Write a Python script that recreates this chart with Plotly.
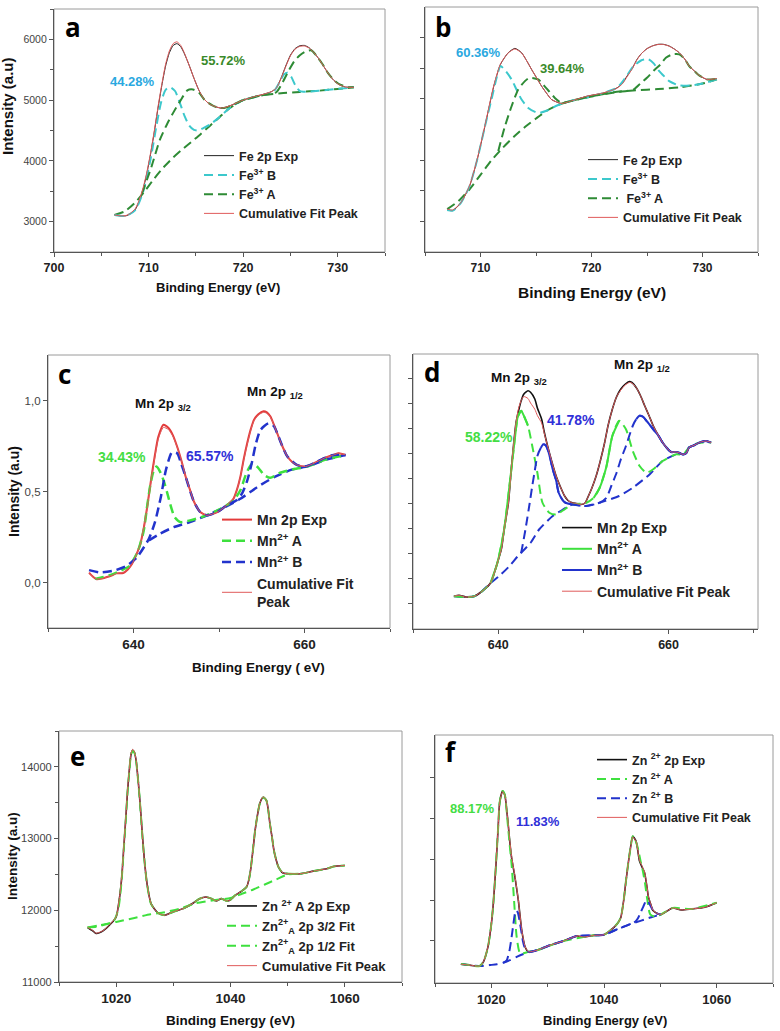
import plotly.graph_objects as go

W, H = 780, 1031

# ---------------- Panel a : Fe 2p ----------------
a_exp_x = [706.4, 707.0, 707.6, 708.1, 708.6, 709.0, 709.4, 709.8, 710.2, 710.6, 711.0, 711.4, 711.8, 712.2, 712.6,
           713.0, 713.4, 713.8, 714.3, 714.8, 715.3, 715.8, 716.4, 717.1, 717.8, 718.8, 720.0, 721.0, 722.0, 723.0,
           723.5, 724.0, 724.5, 725.0, 725.5, 726.0, 726.5, 727.0, 727.5, 728.0, 728.5, 729.0, 729.5, 730.0, 730.8, 731.7]
a_exp_y = [3110, 3095, 3095, 3130, 3200, 3330, 3520, 3780, 4100, 4470, 4870, 5240, 5560, 5780, 5900,
           5930, 5880, 5760, 5570, 5360, 5170, 5030, 4940, 4890, 4865, 4920, 5000, 5050, 5090, 5140,
           5200, 5360, 5560, 5740, 5850, 5895, 5900, 5860, 5780, 5680, 5560, 5440, 5340, 5270, 5215, 5210]
a_cum_y = [3110, 3095, 3100, 3140, 3215, 3350, 3545, 3800, 4120, 4490, 4890, 5260, 5590, 5810, 5930,
           5960, 5900, 5770, 5570, 5360, 5170, 5030, 4940, 4890, 4870, 4920, 5000, 5050, 5090, 5140,
           5195, 5350, 5550, 5730, 5840, 5885, 5890, 5855, 5780, 5680, 5560, 5440, 5340, 5270, 5215, 5210]
a_bg_x = [706.4, 707.5, 708.5, 709.5, 710.5, 711.5, 712.5, 713.5, 714.5, 715.5, 716.5, 717.5, 718.5, 720.0,
          722.0, 724.0, 726.0, 728.0, 730.0, 731.7]
a_bg_y = [3110, 3170, 3300, 3480, 3690, 3880, 4040, 4180, 4310, 4440, 4580, 4720, 4860, 5000,
          5080, 5115, 5135, 5155, 5185, 5210]
a_B_x = [706.4, 707.6, 708.6, 709.4, 710.2, 710.8, 711.3, 711.8, 712.3, 712.8, 713.3, 713.8, 714.3, 714.8, 715.3,
         715.8, 716.5, 717.5, 718.5, 720.0, 722.0, 723.2, 723.8, 724.3, 724.7, 725.1, 725.5, 726.0, 727.0, 728.0,
         730.0, 731.7]
a_B_y = [3110, 3095, 3190, 3480, 4020, 4550, 4950, 5170, 5210, 5150, 4960, 4740, 4580, 4510, 4500,
         4540, 4600, 4720, 4860, 5000, 5080, 5140, 5280, 5420, 5450, 5380, 5250, 5150, 5140, 5155,
         5185, 5210]
a_A_x = [709.3, 710.3, 711.2, 712.0, 712.6, 713.4, 714.1, 714.7, 715.3, 716.0, 716.8, 717.5, 718.2, 719.0, 720.0,
         722.0, 723.5, 724.2, 724.8, 725.4, 726.0, 726.6, 727.2, 727.8, 728.4, 729.0, 729.6, 730.2, 731.0, 731.7]
a_A_y = [3460, 3900, 4350, 4620, 4790, 5000, 5160, 5175, 5130, 4990, 4910, 4870, 4880, 4930, 5000,
         5080, 5130, 5300, 5480, 5640, 5740, 5800, 5820, 5720, 5590, 5440, 5330, 5260, 5215, 5210]

# ---------------- Panel b : Fe 2p ----------------
b_exp_x = [707.0, 707.5, 708.2, 709.0, 709.7, 710.4, 711.2, 711.8, 712.5, 713.1, 713.7, 714.2, 714.6, 715.1, 715.5,
           716.0, 716.4, 717.3, 718.1, 719.6, 721.1, 722.3, 722.8, 723.2, 723.7, 724.1, 724.5, 725.0, 725.5, 726.0,
           726.5, 727.0, 727.5, 727.9, 728.4, 728.8, 729.3, 729.7, 730.4, 731.3]
b_exp_y = [3186, 3175, 3295, 3568, 4005, 4552, 5208, 5563, 5754, 5825, 5754, 5610, 5481, 5330, 5208,
           5080, 4989, 4923, 4962, 5044, 5098, 5180, 5260, 5372, 5510, 5645, 5740, 5820, 5865, 5891,
           5890, 5863, 5810, 5754, 5650, 5536, 5450, 5383, 5317, 5328]
b_cum_y = [3200, 3185, 3300, 3575, 4015, 4565, 5220, 5570, 5750, 5815, 5750, 5610, 5481, 5330, 5208,
           5080, 4989, 4925, 4962, 5044, 5098, 5175, 5250, 5360, 5500, 5640, 5740, 5820, 5865, 5888,
           5888, 5860, 5808, 5754, 5650, 5536, 5450, 5383, 5320, 5330]
b_bg_x = [707.0, 708.0, 709.0, 710.0, 711.0, 712.0, 713.0, 714.0, 715.0, 716.0, 717.0, 718.0, 720.0, 722.0,
          724.0, 726.0, 728.0, 730.0, 731.3]
b_bg_y = [3200, 3330, 3520, 3760, 4000, 4200, 4380, 4540, 4680, 4810, 4900, 4960, 5040, 5110,
          5140, 5160, 5190, 5250, 5320]
b_B_x = [707.0, 707.5, 708.2, 709.0, 709.7, 710.4, 711.0, 711.5, 711.8, 712.3, 712.8, 713.3, 713.7, 714.3, 715.2,
         716.0, 717.0, 718.0, 720.0, 722.3, 723.0, 723.8, 724.5, 725.1, 725.6, 726.1, 726.6, 727.0, 727.9, 729.0,
         730.0, 731.3]
b_B_y = [3186, 3175, 3295, 3568, 4005, 4552, 5000, 5380, 5536, 5450, 5317, 5130, 4989, 4852, 4770,
         4810, 4900, 4960, 5040, 5180, 5330, 5536, 5630, 5650, 5580, 5454, 5360, 5290, 5219, 5220,
         5250, 5320]
b_A_x = [711.6, 712.2, 712.8, 713.4, 714.0, 714.4, 715.2, 715.9, 716.7, 717.3, 718.1, 720.0, 722.3, 723.2,
         723.8, 724.4, 725.0, 725.6, 726.2, 726.7, 727.3, 727.9, 728.4, 728.8, 729.3, 729.7, 730.4, 731.3]
b_A_y = [4150, 4552, 4880, 5153, 5290, 5344, 5317, 5180, 5016, 4934, 4962, 5044, 5110, 5130,
         5153, 5250, 5344, 5460, 5560, 5672, 5727, 5727, 5650, 5536, 5450, 5383, 5317, 5328]

# ---------------- Panel c : Mn 2p ----------------
c_exp_x = [634.8, 635.3, 635.7, 636.3, 636.9, 637.5, 638.0, 638.8, 639.3, 639.8, 640.3, 640.8, 641.2, 641.6, 642.1,
           642.5, 642.9, 643.5, 644.1, 644.6, 645.1, 645.6, 646.1, 646.6, 647.0, 647.8, 648.6, 649.8, 650.9, 651.7,
           652.1, 652.5, 652.9, 653.3, 653.7, 654.1, 654.6, 655.2, 655.6, 656.0, 656.4, 656.8, 657.4, 658.0, 658.5,
           659.1, 660.1, 661.1, 662.3, 663.4, 664.0, 664.8]
c_exp_y = [0.054, 0.03, 0.018, 0.022, 0.03, 0.04, 0.05, 0.052, 0.07, 0.10, 0.15, 0.212, 0.30, 0.415, 0.58,
           0.70, 0.80, 0.867, 0.849, 0.81, 0.747, 0.67, 0.581, 0.51, 0.452, 0.387, 0.369, 0.387, 0.424, 0.461,
           0.51, 0.581, 0.68, 0.766, 0.84, 0.895, 0.925, 0.941, 0.935, 0.913, 0.87, 0.821, 0.75, 0.692, 0.665,
           0.646, 0.637, 0.655, 0.683, 0.701, 0.71, 0.701]
c_cum_y = [0.05, 0.03, 0.02, 0.022, 0.03, 0.04, 0.05, 0.055, 0.072, 0.10, 0.15, 0.21, 0.30, 0.41, 0.57,
           0.69, 0.79, 0.852, 0.84, 0.805, 0.745, 0.67, 0.581, 0.51, 0.452, 0.387, 0.369, 0.387, 0.424, 0.461,
           0.51, 0.581, 0.675, 0.76, 0.835, 0.89, 0.92, 0.935, 0.93, 0.91, 0.868, 0.82, 0.75, 0.692, 0.665,
           0.646, 0.637, 0.655, 0.683, 0.701, 0.71, 0.701]
c_bg_x = [641.8, 643.1, 644.7, 646.6, 648.6, 650.5, 652.5, 654.5, 656.5, 658.5, 660.5, 662.5, 664.8]
c_bg_y = [0.231, 0.268, 0.304, 0.332, 0.369, 0.41, 0.46, 0.525, 0.58, 0.62, 0.64, 0.675, 0.70]
c_A_x = [635.5, 636.5, 637.5, 638.5, 639.5, 640.5, 641.2, 641.6, 642.0, 642.4, 642.7, 643.1, 643.5, 643.9, 644.3,
         644.8, 645.5, 646.5, 648.0, 650.0, 651.7, 652.5, 653.2, 653.9, 654.6, 655.3, 656.0, 657.0, 658.5, 660.5,
         662.5, 664.8]
c_A_y = [0.02, 0.03, 0.045, 0.065, 0.09, 0.17, 0.286, 0.42, 0.544, 0.62, 0.637, 0.609, 0.563, 0.5, 0.43,
         0.36, 0.332, 0.34, 0.36, 0.40, 0.452, 0.507, 0.6, 0.655, 0.63, 0.59, 0.575, 0.6, 0.62, 0.64,
         0.675, 0.70]
c_B_x = [634.8, 636.1, 637.7, 639.2, 640.4, 641.8, 642.5, 643.2, 643.8, 644.5, 645.1, 645.6, 646.1, 647.0, 647.8,
         648.6, 649.8, 650.9, 652.0, 652.7, 653.3, 653.8, 654.3, 654.8, 655.3, 655.8, 656.4, 656.8, 657.4, 658.0,
         659.1, 660.1, 661.1, 662.3, 663.4, 664.8]
c_B_y = [0.068, 0.055, 0.065, 0.092, 0.138, 0.24, 0.33, 0.47, 0.62, 0.715, 0.71, 0.65, 0.581, 0.452, 0.387,
         0.369, 0.387, 0.424, 0.45, 0.49, 0.56, 0.65, 0.76, 0.835, 0.86, 0.875, 0.86, 0.821, 0.75, 0.692,
         0.646, 0.637, 0.655, 0.683, 0.701, 0.701]

# ---------------- Panel d : Mn 2p ----------------
d_exp_x = [634.8, 635.4, 636.2, 637.2, 638.1, 639.1, 639.9, 640.4, 640.7, 641.2, 641.5, 641.8, 642.1, 642.4, 642.7,
           643.0, 643.5, 643.8, 644.3, 644.6, 645.1, 645.4, 645.8, 646.3, 646.8, 647.3, 647.8, 648.2, 648.7, 649.2,
           649.7, 650.2, 650.5, 651.0, 651.5, 652.0, 652.5, 652.9, 653.4, 653.9, 654.4, 654.9, 655.4, 655.7, 656.2,
           656.7, 657.2, 657.7, 658.2, 658.8, 659.3, 659.8, 660.3, 660.9, 661.3, 661.7, 662.1, 662.4, 663.0, 663.5,
           663.8, 664.4, 665.0]
d_exp_y = [0.027, 0.031, 0.024, 0.027, 0.047, 0.080, 0.160, 0.22, 0.294, 0.40, 0.521, 0.63, 0.722, 0.77, 0.809,
           0.835, 0.849, 0.843, 0.816, 0.78, 0.735, 0.685, 0.628, 0.565, 0.508, 0.465, 0.428, 0.41, 0.401, 0.398,
           0.394, 0.40, 0.421, 0.46, 0.508, 0.57, 0.642, 0.71, 0.775, 0.825, 0.856, 0.875, 0.886, 0.882, 0.862,
           0.83, 0.789, 0.75, 0.709, 0.67, 0.642, 0.62, 0.604, 0.604, 0.60, 0.594, 0.60, 0.622, 0.631, 0.64,
           0.644, 0.648, 0.642]
d_cum_y = [0.027, 0.031, 0.024, 0.027, 0.047, 0.080, 0.160, 0.22, 0.294, 0.40, 0.521, 0.63, 0.722, 0.78, 0.81,
           0.826, 0.818, 0.80, 0.775, 0.75, 0.72, 0.68, 0.628, 0.565, 0.508, 0.465, 0.428, 0.41, 0.401, 0.398,
           0.394, 0.40, 0.421, 0.46, 0.508, 0.57, 0.642, 0.71, 0.775, 0.825, 0.852, 0.872, 0.882, 0.88, 0.862,
           0.83, 0.789, 0.75, 0.709, 0.67, 0.642, 0.62, 0.604, 0.604, 0.60, 0.594, 0.60, 0.622, 0.631, 0.64,
           0.644, 0.648, 0.642]
d_bg_x = [634.8, 636.2, 637.2, 638.1, 639.1, 640.1, 641.3, 642.3, 643.8, 644.8, 646.4, 647.6, 648.7, 650.3, 651.9,
          654.2, 655.8, 657.8, 659.3, 660.9]
d_bg_y = [0.027, 0.024, 0.027, 0.047, 0.080, 0.107, 0.147, 0.187, 0.241, 0.294, 0.348, 0.374, 0.394, 0.388, 0.401,
          0.428, 0.461, 0.515, 0.568, 0.595]
d_A_x = [634.8, 636.2, 637.2, 638.1, 639.1, 639.9, 640.7, 641.5, 642.1, 642.3, 642.7, 643.0, 643.5, 644.0, 644.6,
         645.2, 646.0, 646.8, 647.6, 648.7, 650.3, 651.2, 651.9, 652.7, 653.4, 654.2, 655.0, 655.8, 656.6, 657.4,
         658.2, 659.3, 660.9, 661.7, 662.4, 663.5, 665.0]
d_A_y = [0.027, 0.024, 0.027, 0.047, 0.080, 0.160, 0.294, 0.521, 0.70, 0.745, 0.769, 0.75, 0.709, 0.628, 0.521,
         0.401, 0.361, 0.354, 0.37, 0.394, 0.40, 0.42, 0.46, 0.545, 0.668, 0.729, 0.695, 0.608, 0.548, 0.521,
         0.535, 0.568, 0.595, 0.594, 0.622, 0.64, 0.642]
d_B_x = [642.7, 643.2, 643.7, 644.0, 644.3, 644.6, 645.0, 645.3, 645.6, 645.8, 646.1, 646.4, 646.8, 647.1, 647.6,
         647.9, 648.7, 650.3, 651.9, 652.7, 653.3, 653.9, 654.4, 655.0, 655.4, 655.8, 656.2, 656.6, 657.0, 657.4,
         657.8, 658.2, 658.8, 659.3, 659.8, 660.3, 660.9, 661.3, 661.7, 662.1, 662.4, 663.0, 663.5, 663.8, 664.4,
         665.0]
d_B_y = [0.2, 0.294, 0.40, 0.468, 0.53, 0.588, 0.62, 0.635, 0.63, 0.615, 0.58, 0.535, 0.49, 0.441, 0.41,
         0.401, 0.394, 0.388, 0.401, 0.421, 0.47, 0.521, 0.575, 0.628, 0.67, 0.709, 0.735, 0.749, 0.745, 0.729,
         0.712, 0.695, 0.67, 0.642, 0.62, 0.604, 0.604, 0.60, 0.594, 0.60, 0.622, 0.631, 0.64, 0.644, 0.648,
         0.642]

# ---------------- Panel e : Zn 2p ----------------
e_exp_x = [1015.0, 1015.9, 1016.5, 1017.7, 1019.1, 1020.0, 1020.6, 1021.0, 1021.3, 1021.7, 1022.0, 1022.3, 1022.6,
           1022.9, 1023.2, 1023.5, 1023.8, 1024.1, 1024.4, 1024.7, 1025.0, 1025.4, 1026.1, 1027.3, 1028.5, 1029.9,
           1031.7, 1033.5, 1034.6, 1035.7, 1036.7, 1037.5, 1038.4, 1039.3, 1039.9, 1040.8, 1041.9, 1042.8, 1043.2,
           1043.5, 1043.9, 1044.3, 1044.7, 1045.1, 1045.5, 1045.8, 1046.3, 1046.6, 1046.9, 1047.3, 1047.6, 1048.0,
           1048.4, 1049.2, 1050.4, 1052.2, 1054.5, 1056.8, 1058.0, 1060.0]
e_exp_y = [11759, 11713, 11676, 11713, 11815, 11907, 12185, 12480, 12833, 13300, 13667, 13950, 14176,
           14231, 14200, 14080, 13850, 13574, 13250, 12926, 12650, 12370, 12093, 11963, 11931, 11977,
           12023, 12102, 12162, 12185, 12162, 12130, 12162, 12130, 12139, 12208, 12264, 12324, 12420,
           12556, 12820, 13111, 13320, 13481, 13560, 13574, 13528, 13400, 13204, 13000, 12833, 12700,
           12602, 12519, 12509, 12509, 12546, 12579, 12611, 12625]
e_cum_y = [11765, 11718, 11680, 11715, 11818, 11912, 12190, 12490, 12845, 13310, 13680, 13965, 14190,
           14245, 14210, 14085, 13850, 13570, 13245, 12920, 12645, 12370, 12093, 11963, 11931, 11977,
           12023, 12102, 12162, 12185, 12162, 12130, 12162, 12130, 12139, 12208, 12264, 12324, 12420,
           12556, 12820, 13111, 13320, 13485, 13565, 13580, 13530, 13400, 13204, 13000, 12833, 12700,
           12602, 12519, 12509, 12509, 12546, 12579, 12611, 12625]
e_f32_x = [1015.0, 1016.5, 1018.0, 1019.5, 1020.3, 1020.7, 1021.0, 1021.3, 1021.7, 1022.0, 1022.3, 1022.6, 1022.9,
           1023.2, 1023.5, 1023.8, 1024.1, 1024.4, 1024.7, 1025.0, 1025.4, 1026.1, 1027.3, 1028.5, 1029.9, 1031.7,
           1033.5, 1034.6, 1035.7, 1036.7, 1037.5, 1038.4, 1039.3, 1039.9]
e_f32_y = [11759, 11770, 11800, 11840, 11990, 12200, 12470, 12820, 13290, 13660, 13945, 14170, 14225,
           14195, 14075, 13845, 13570, 13245, 12920, 12645, 12365, 12090, 11963, 11931, 11977, 12023,
           12102, 12162, 12185, 12162, 12130, 12162, 12130, 12139]
e_f12_x = [1039.9, 1040.8, 1041.9, 1042.8, 1043.2, 1043.5, 1043.9, 1044.3, 1044.7, 1045.1, 1045.5, 1045.8, 1046.3,
           1046.6, 1046.9, 1047.3, 1047.6, 1048.0, 1048.4, 1049.2, 1050.4, 1052.2, 1054.5, 1056.8, 1058.0, 1060.0]
e_f12_y = [12139, 12208, 12264, 12324, 12420, 12556, 12820, 13111, 13320, 13481, 13560, 13574, 13528,
           13400, 13204, 13000, 12833, 12700, 12602, 12519, 12509, 12509, 12546, 12579, 12611, 12625]
e_bg_x = [1015, 1017, 1020, 1023, 1026, 1028, 1031, 1034, 1037, 1040, 1042, 1044, 1046, 1048, 1050, 1052]
e_bg_y = [11760, 11790, 11838, 11890, 11945, 11965, 12020, 12100, 12140, 12170, 12230, 12290, 12360, 12430,
          12500, 12510]

# ---------------- Panel f : Zn 2p ----------------
f_exp_x = [1014.6, 1016.1, 1017.9, 1018.6, 1019.4, 1019.9, 1020.3, 1020.6, 1020.9, 1021.2, 1021.5, 1022.0, 1022.4,
           1022.7, 1023.0, 1023.3, 1023.6, 1024.2, 1024.8, 1025.4, 1026.0, 1026.6, 1028.1, 1030.4, 1032.8, 1035.2,
           1036.4, 1038.2, 1040.0, 1041.8, 1042.5, 1043.0, 1043.5, 1043.9, 1044.3, 1044.7, 1045.1, 1045.7, 1046.3,
           1046.8, 1047.2, 1047.6, 1047.9, 1048.3, 1048.7, 1049.6, 1050.1, 1051.3, 1052.2, 1053.7, 1055.5, 1057.9,
           1060.0]
f_exp_y = [0.433, 0.409, 0.385, 0.49, 0.854, 1.3, 1.826, 2.4, 3.04, 3.75, 4.417, 4.676, 4.579,
           4.25, 3.85, 3.4, 3.04, 2.555, 1.988, 1.259, 0.854, 0.733, 0.773, 0.895, 1.0, 1.121,
           1.097, 1.138, 1.154, 1.34, 1.45, 1.583, 2.0, 2.474, 2.9, 3.283, 3.567, 3.445, 2.96,
           2.8, 2.676, 2.35, 2.069, 1.9, 1.745, 1.664, 1.648, 1.745, 1.81, 1.761, 1.785, 1.826,
           1.939]
f_cum_y = [0.433, 0.409, 0.385, 0.49, 0.86, 1.31, 1.84, 2.42, 3.06, 3.76, 4.42, 4.66, 4.57,
           4.26, 3.87, 3.42, 3.07, 2.58, 2.0, 1.27, 0.86, 0.735, 0.773, 0.895, 1.0, 1.121,
           1.097, 1.138, 1.154, 1.34, 1.45, 1.58, 2.0, 2.47, 2.9, 3.28, 3.55, 3.44, 2.98,
           2.82, 2.69, 2.37, 2.08, 1.91, 1.75, 1.664, 1.648, 1.745, 1.81, 1.761, 1.785, 1.826,
           1.939]
f_bg_x = [1014.6, 1016.1, 1018.2, 1019.7, 1021.0, 1022.1, 1023.3, 1024.5, 1025.7, 1026.9, 1028.1, 1030.4, 1032.8,
          1035.2, 1038.2, 1040.0, 1042.4, 1044.8, 1046.6, 1048.4, 1050.1]
f_bg_y = [0.433, 0.409, 0.385, 0.409, 0.43, 0.466, 0.53, 0.611, 0.68, 0.733, 0.773, 0.895, 1.0,
          1.121, 1.138, 1.154, 1.29, 1.421, 1.50, 1.583, 1.648]
f_A_x = [1014.6, 1016.1, 1017.9, 1018.6, 1019.4, 1019.9, 1020.3, 1020.6, 1020.9, 1021.2, 1021.5, 1022.0, 1022.4,
         1022.9, 1023.3, 1023.6, 1024.0, 1024.5, 1025.1, 1025.7, 1026.6, 1028.1, 1032.8, 1038.2, 1040.0, 1041.8,
         1042.5, 1043.0, 1043.5, 1043.9, 1044.3, 1044.7, 1045.1, 1045.6, 1046.0, 1046.5, 1046.9, 1047.3, 1047.7,
         1048.2, 1049.0, 1050.1, 1052.2, 1055.5, 1060.0]
f_A_y = [0.433, 0.409, 0.385, 0.49, 0.854, 1.3, 1.826, 2.4, 3.04, 3.75, 4.417, 4.676, 4.58,
         3.9, 3.3, 2.879, 2.069, 1.097, 0.692, 0.70, 0.733, 0.773, 1.0, 1.138, 1.154, 1.34,
         1.45, 1.583, 2.0, 2.474, 2.9, 3.283, 3.567, 3.45, 3.283, 2.95, 2.717, 2.4, 2.0,
         1.65, 1.6, 1.648, 1.81, 1.785, 1.939]
f_B_x = [1022.1, 1022.7, 1023.2, 1023.6, 1023.9, 1024.2, 1024.4, 1024.7, 1025.0, 1025.3, 1025.6, 1026.0, 1026.6,
         1028.1, 1030.4, 1032.8, 1035.2, 1038.2, 1040.0, 1042.4, 1044.8, 1045.6, 1046.0, 1046.5, 1047.0, 1047.4,
         1047.7, 1048.1, 1048.5, 1049.0, 1049.6, 1050.1]
f_B_y = [0.466, 0.52, 0.75, 1.097, 1.4, 1.68, 1.745, 1.7, 1.5, 1.26, 1.0, 0.81, 0.733,
         0.773, 0.895, 1.0, 1.121, 1.138, 1.154, 1.29, 1.421, 1.48, 1.55, 1.7, 1.85, 1.97,
         1.99, 1.9, 1.8, 1.7, 1.664, 1.648]

# ---------------- texts ----------------
pct_a = ["44.28%", "55.72%"]
pct_b = ["60.36%", "39.64%"]
pct_c = ["34.43%", "65.57%"]
pct_d = ["58.22%", "41.78%"]
pct_f = ["88.17%", "11.83%"]
c_yticks = [0.0, 0.5, 1.0]
c_yticktext = ["0,0", "0,5", "1,0"]
e_yticks = [11000, 12000, 13000, 14000]

# ---------------- styling ----------------
FONT = "Liberation Sans, Arial, sans-serif"
CYAN = "#3cc8cc"
DGREEN = "#2e8b35"
GREEN = "#3ee03e"
BLUE = "#2233cc"
RED = "#e33a3a"
RED_THIN = "#e05a5a"
DASH = "9px,5px"


def dom_x(l, r):
    return [l / W, r / W]


def dom_y(t, b):
    return [1 - b / H, 1 - t / H]


fig = go.Figure()


def line(n, x, y, name=None, color="black", width=1.0, dash="solid", legend=None, show=True):
    xa = "x" if n == 1 else f"x{n}"
    ya = "y" if n == 1 else f"y{n}"
    fig.add_trace(go.Scatter(
        x=x, y=y, mode="lines", name=name, xaxis=xa, yaxis=ya,
        line=dict(color=color, width=width, dash=dash, shape="spline", smoothing=0.6),
        showlegend=show and name is not None, legend=legend, hoverinfo="skip"))


def masked(x, y, intervals):
    ys = []
    for xi, yi in zip(x, y):
        ok = any(lo <= xi <= hi for lo, hi in intervals)
        ys.append(yi if ok else None)
    return ys


# a
line(1, a_exp_x, a_exp_y, "Fe 2p Exp", "#222222", 1.0, legend="legend")
line(1, a_bg_x, a_bg_y, None, DGREEN, 2.0, DASH, show=False)
line(1, a_B_x, a_B_y, "Fe<sup>3+</sup> B", CYAN, 2.0, DASH, legend="legend")
line(1, a_A_x, a_A_y, "Fe<sup>3+</sup> A", DGREEN, 2.0, DASH, legend="legend")
line(1, a_exp_x, a_cum_y, "Cumulative Fit Peak", RED_THIN, 1.0, legend="legend")
# b
line(2, b_exp_x, b_exp_y, "Fe 2p Exp", "#222222", 1.0, legend="legend2")
line(2, b_bg_x, b_bg_y, None, DGREEN, 2.0, DASH, show=False)
line(2, b_B_x, b_B_y, "Fe<sup>3+</sup> B", CYAN, 2.0, DASH, legend="legend2")
line(2, b_A_x, b_A_y, " Fe<sup>3+</sup> A", DGREEN, 2.0, DASH, legend="legend2")
line(2, b_exp_x, b_cum_y, "Cumulative Fit Peak", RED_THIN, 1.0, legend="legend2")
# c
line(3, c_exp_x, c_exp_y, "Mn 2p Exp", RED, 2.0, legend="legend3")
line(3, c_bg_x, c_bg_y, None, BLUE, 2.5, DASH, show=False)
line(3, c_A_x, c_A_y, "Mn<sup>2+</sup> A", GREEN, 2.5, DASH, legend="legend3")
line(3, c_B_x, c_B_y, "Mn<sup>2+</sup> B", BLUE, 2.5, DASH, legend="legend3")
line(3, c_exp_x, c_cum_y, "Cumulative Fit<br>Peak", RED_THIN, 1.0, legend="legend3")
# d
line(4, d_exp_x, d_exp_y, "Mn 2p Exp", "#111111", 1.6, legend="legend4")
line(4, d_bg_x, d_bg_y, None, BLUE, 2.0, DASH, show=False)
line(4, d_A_x, d_A_y, None, GREEN, 2.0, DASH, show=False)
line(4, d_A_x, masked(d_A_x, d_A_y, [(638.6, 643.5), (651.2, 654.9)]), "Mn<sup>2+</sup> A", GREEN, 2.0,
     legend="legend4")
line(4, d_B_x, d_B_y, None, BLUE, 2.0, DASH, show=False)
line(4, d_B_x, masked(d_B_x, d_B_y, [(644.8, 648.8), (655.9, 665.1)]), "Mn<sup>2+</sup> B", BLUE, 2.0,
     legend="legend4")
line(4, d_exp_x, d_cum_y, "Cumulative Fit Peak", RED_THIN, 1.0, legend="legend4")
# e
line(5, e_exp_x, e_exp_y, "Zn <sup>2+</sup> A 2p Exp", "#111111", 1.6, legend="legend5")
line(5, e_bg_x, e_bg_y, None, GREEN, 2.0, DASH, show=False)
line(5, e_f32_x, e_f32_y, "Zn<sup>2+</sup><sub>A</sub> 2p 3/2 Fit", GREEN, 2.0, DASH, legend="legend5")
line(5, e_f12_x, e_f12_y, "Zn<sup>2+</sup><sub>A</sub> 2p 1/2 Fit", GREEN, 2.0, DASH, legend="legend5")
line(5, e_exp_x, e_cum_y, "Cumulative Fit Peak", RED_THIN, 1.0, legend="legend5")
# f
line(6, f_exp_x, f_exp_y, "Zn <sup>2+</sup> 2p Exp", "#111111", 1.6, legend="legend6")
line(6, f_bg_x, f_bg_y, None, BLUE, 2.0, DASH, show=False)
line(6, f_A_x, f_A_y, "Zn <sup>2+</sup> A", GREEN, 2.0, DASH, legend="legend6")
line(6, f_B_x, f_B_y, "Zn <sup>2+</sup> B", BLUE, 2.0, DASH, legend="legend6")
line(6, f_exp_x, f_cum_y, "Cumulative Fit Peak", RED_THIN, 1.0, legend="legend6")

AX = "#555555"


def xaxis(n, dom, rng, dtick, mdtick, size=12.5):
    return dict(domain=dom, range=rng, anchor=("y" if n == 1 else f"y{n}"), showgrid=False, zeroline=False,
                showline=True, linecolor=AX, linewidth=1.2, ticks="outside", ticklen=4, tickcolor=AX,
                tickwidth=1, dtick=dtick, tick0=0,
                minor=dict(ticks="outside", ticklen=3, dtick=mdtick, tick0=0, tickcolor=AX, showgrid=False),
                tickfont=dict(family=FONT, size=size, color="#222222", weight="bold"))


def yaxis(n, dom, rng, tickvals=None, ticktext=None, minor=None, labels=True, size=10.5):
    d = dict(domain=dom, range=rng, anchor=("x" if n == 1 else f"x{n}"), showgrid=False, zeroline=False,
             showline=True, linecolor=AX, linewidth=1.2, ticks="outside", ticklen=4, tickcolor=AX,
             tickwidth=1, tickmode="array", tickvals=tickvals, showticklabels=labels,
             tickfont=dict(family=FONT, size=size, color="#444444"))
    if ticktext is not None:
        d["ticktext"] = ticktext
    if minor is not None:
        d["minor"] = dict(ticks="outside", ticklen=3, tickvals=minor, tickcolor=AX, showgrid=False)
    return d


doms = {
    1: (dom_x(54, 385), dom_y(9, 252)),
    2: (dom_x(425, 758), dom_y(7, 252)),
    3: (dom_x(48, 390), dom_y(355, 628)),
    4: (dom_x(413, 758), dom_y(354, 629)),
    5: (dom_x(59, 402), dom_y(731, 982)),
    6: (dom_x(435, 773), dom_y(735, 983)),
}

lay = dict(
    width=W, height=H, margin=dict(l=0, r=0, t=0, b=0), template="none",
    paper_bgcolor="white", plot_bgcolor="white", showlegend=True,
    xaxis=xaxis(1, doms[1][0], [700, 735], 10, 5),
    yaxis=yaxis(1, doms[1][1], [2500, 6500], [3000, 4000, 5000, 6000], [str(v) for v in [3000, 4000, 5000, 6000]],
                minor=[2500, 3500, 4500, 5500, 6500]),
    xaxis2=xaxis(2, doms[2][0], [705, 735], 10, 5, 12),
    yaxis2=yaxis(2, doms[2][1], [2500, 6500], [3000, 3500, 4000, 4500, 5000, 5500, 6000], labels=False),
    xaxis3=xaxis(3, doms[3][0], [630, 670], 20, 10, 13.5),
    yaxis3=yaxis(3, doms[3][1], [-0.25, 1.25], c_yticks, c_yticktext, size=11.5),
    xaxis4=xaxis(4, doms[4][0], [630, 670.5], 20, 10, 12.5),
    yaxis4=yaxis(4, doms[4][1], [-0.104, 0.996], [i / 10 for i in range(10)], labels=False),
    xaxis5=xaxis(5, doms[5][0], [1010, 1070], 20, 10, 13.5),
    yaxis5=yaxis(5, doms[5][1], [11000, 14500], e_yticks, [str(v) for v in e_yticks],
                 minor=[11500, 12500, 13500, 14500], size=11),
    xaxis6=xaxis(6, doms[6][0], [1010, 1070], 20, 10, 13),
    yaxis6=yaxis(6, doms[6][1], [-0.03, 6.05], [1, 2, 3, 4, 5], labels=False),
)


def leg(left, top, size=13):
    return dict(x=(left - 6) / W, y=1 - (top - 11) / H, xanchor="left", yanchor="top",
                bgcolor="rgba(0,0,0,0)", borderwidth=0, tracegroupgap=0, traceorder="normal",
                font=dict(family=FONT, size=size, color="#222222", weight="bold"),
                itemwidth=30)


lay["legend"] = leg(205, 152, 12.5)
lay["legend2"] = leg(589, 156, 12.5)
lay["legend3"] = leg(223, 515, 14)
lay["legend4"] = leg(563, 523, 14)
lay["legend5"] = leg(228, 902, 13)
lay["legend6"] = leg(598, 756, 12.5)
fig.update_layout(**lay)

# frames (lighter top/right)
for n in range(1, 7):
    xr = "x" if n == 1 else f"x{n}"
    yr = "y" if n == 1 else f"y{n}"
    fig.add_shape(type="rect", xref=f"{xr} domain", yref=f"{yr} domain", x0=0, x1=1, y0=0, y1=1,
                  line=dict(color="#9a9a9a", width=1), layer="below")

ann = []


def txt(x, y, s, size, color="#111111", xref="paper", yref="paper", bold=True, angle=0, family=FONT):
    ann.append(dict(x=x, y=y, xref=xref, yref=yref, text=s, showarrow=False, textangle=angle,
                    xanchor="center", yanchor="middle",
                    font=dict(family=family, size=size, color=color, weight="bold" if bold else "normal")))


def px(x, y):
    return x / W, 1 - y / H


# panel letters
for letter, (lx, ly) in zip("abcdef", [(73, 27), (443, 27), (64, 374), (432, 372), (77, 756), (451, 752)]):
    X, Y = px(lx, ly)
    txt(X, Y, letter, 26, "#000000", family="Open Sans, Liberation Sans, sans-serif")

# axis titles
for (tx, ty), s, size in [((218, 287), "Binding Energy (eV)", 13), ((592, 292), "Binding Energy (eV)", 15.5),
                          ((258, 667), "Binding Energy ( eV)", 13.5), ((230, 1020), "Binding Energy (eV)", 13.5),
                          ((605, 1020), "Binding Energy (eV)", 13)]:
    X, Y = px(tx, ty)
    txt(X, Y, s, size, "#111111")
for (tx, ty), size in [((8, 106), 15), ((14, 492), 14), ((12, 856), 13.5)]:
    X, Y = px(tx, ty)
    txt(X, Y, "Intensity (a.u)", size, "#111111", angle=-90)

# percentages
txt(708.3, 5311, pct_a[0], 13, "#2aa8e0", "x", "y")
txt(717.9, 5656, pct_a[1], 13, "#3a8a2a", "x", "y")
txt(709.8, 5754, pct_b[0], 13, "#2aa8e0", "x2", "y2")
txt(717.4, 5492, pct_b[1], 13, "#3a8a2a", "x2", "y2")
txt(638.7, 0.69, pct_c[0], 14, "#44dd44", "x3", "y3")
txt(649.0, 0.696, pct_c[1], 14, "#3030d8", "x3", "y3")
txt(638.9, 0.664, pct_d[0], 14, "#44dd44", "x4", "y4")
txt(648.6, 0.732, pct_d[1], 14, "#3030d8", "x4", "y4")
txt(1016.6, 4.25, pct_f[0], 13, "#44dd44", "x6", "y6")
txt(1028.2, 3.94, pct_f[1], 13, "#3030d8", "x6", "y6")

# peak labels
txt(643.5, 0.978, "Mn 2p <sub>3/2</sub>", 13.5, "#111111", "x3", "y3")
txt(656.6, 1.044, "Mn 2p <sub>1/2</sub>", 13.5, "#111111", "x3", "y3")
txt(642.5, 0.90, "Mn 2p <sub>3/2</sub>", 13.5, "#111111", "x4", "y4")
txt(656.9, 0.952, "Mn 2p <sub>1/2</sub>", 13.5, "#111111", "x4", "y4")

fig.update_layout(annotations=ann)
fig.write_html("out.html", config={"displayModeBar": False},
               post_script="document.body.style.margin='0px';")
